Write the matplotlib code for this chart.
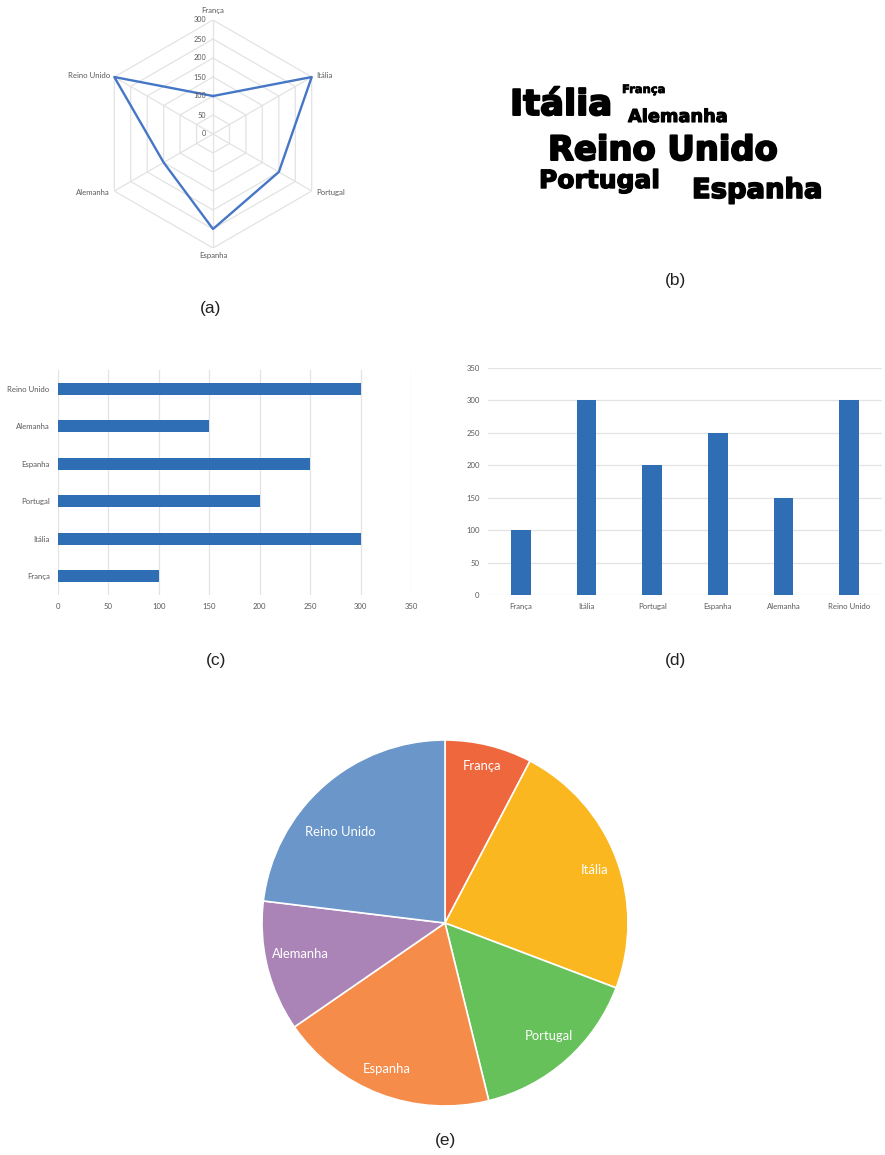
import numpy as np
import matplotlib
matplotlib.use("Agg")
import matplotlib.pyplot as plt
import matplotlib.patheffects as pe

# Data shared by all five panels
countries = ["França", "Itália", "Portugal", "Espanha", "Alemanha", "Reino Unido"]
values = [100, 300, 200, 250, 150, 300]

# Horizontal bar chart lists categories bottom-to-top in this order
hbar_countries = ["França", "Itália", "Portugal", "Espanha", "Alemanha", "Reino Unido"]
hbar_values = [100, 300, 200, 250, 150, 300]

radar_ticks = [0, 50, 100, 150, 200, 250, 300]
axis_ticks = [0, 50, 100, 150, 200, 250, 300, 350]

# Word cloud words
cloud_words = ["Itália", "França", "Alemanha", "Reino Unido", "Portugal", "Espanha"]

pie_colors = ["#EF673D", "#FBB71F", "#66C15A", "#F68C4A", "#AB84B7", "#6B96CA"]

W, H = 885, 1155
fig = plt.figure(figsize=(W / 100, H / 100), dpi=100)
fig.patch.set_facecolor("white")

BLUE = "#2F6DB5"
LINE_BLUE = "#4676C6"
GRID = "#E3E3E3"
TXT = "#595959"
FONT = "Lato"


def box(x0, y0, x1, y1):
    """Pixel box (top-left origin) -> figure fraction rect."""
    return [x0 / W, 1 - y1 / H, (x1 - x0) / W, (y1 - y0) / H]


def panel_label(x, y, s):
    fig.text(x / W, 1 - y / H, s, ha="center", va="center",
             fontsize=12.5, family="Liberation Sans", color="#222222")


# (a) radar chart
cx, cy, R = 213, 134, 114
axr = fig.add_axes(box(cx - R, cy - R, cx + R, cy + R), projection="polar")
axr.set_theta_offset(np.pi / 2)
axr.set_theta_direction(-1)
axr.set_ylim(0, 300)
axr.grid(False)
axr.spines["polar"].set_visible(False)
axr.set_xticks([])
axr.set_yticks([])
axr.patch.set_alpha(0)
n = len(countries)
theta = np.arange(n) * 2 * np.pi / n
theta_c = np.append(theta, theta[0])
for r in radar_ticks[1:]:
    axr.plot(theta_c, [r] * (n + 1), color=GRID, lw=0.9, zorder=1)
for t in theta:
    axr.plot([t, t], [0, 300], color=GRID, lw=0.9, zorder=1)
vals_c = values + values[:1]
axr.plot(theta_c, vals_c, color=LINE_BLUE, lw=1.7, zorder=3, clip_on=False)
for r in radar_ticks:
    axr.annotate(str(r), xy=(0, r), xytext=(-5, 0), textcoords="offset points",
                 ha="right", va="center", fontsize=5.2, color=TXT, family=FONT,
                 annotation_clip=False)
label_align = [("center", "bottom", 0, 4), ("left", "center", 3, 1),
               ("left", "center", 3, -1), ("center", "top", 0, -3),
               ("right", "center", -3, -1), ("right", "center", -3, 1)]
for t, name, (ha, va, dx, dy) in zip(theta, countries, label_align):
    axr.annotate(name, xy=(t, 300), xytext=(dx, dy), textcoords="offset points",
                 ha=ha, va=va, fontsize=5.6, color=TXT, family=FONT,
                 annotation_clip=False)
panel_label(211, 309, "(a)")

# (b) word cloud
cloud_pos = [(510, 115), (622, 93), (628, 122), (548, 160), (539, 188), (692, 198)]
cloud_size = [25.5, 8.3, 12.8, 24.3, 18, 19.7]
cloud_stroke = [1.4, 0.5, 0.8, 1.4, 1.0, 1.2]
for word, (x, y), s, sw in zip(cloud_words, cloud_pos, cloud_size, cloud_stroke):
    fig.text(x / W, 1 - y / H, word, ha="left", va="baseline", fontsize=s,
             fontweight="bold", family="DejaVu Sans", color="black",
             path_effects=[pe.withStroke(linewidth=sw, foreground="black")])
panel_label(676, 280, "(b)")

# (c) horizontal bar chart
axc = fig.add_axes(box(58, 370, 411, 595))
yc = np.arange(len(hbar_countries))
axc.barh(yc, hbar_values, height=0.32, color=BLUE, zorder=3)
axc.set_xlim(0, 350)
axc.set_ylim(-0.5, len(hbar_countries) - 0.5)
axc.set_xticks(axis_ticks)
axc.set_yticks(yc)
axc.set_yticklabels(hbar_countries)
axc.grid(axis="x", color=GRID, lw=0.9, zorder=0)
for s in axc.spines.values():
    s.set_visible(False)
axc.tick_params(length=0, labelsize=5.6, labelcolor=TXT, pad=6)
for lab in axc.get_xticklabels() + axc.get_yticklabels():
    lab.set_family(FONT)
panel_label(216, 660, "(c)")

# (d) vertical bar chart
axd = fig.add_axes(box(488, 368, 882, 595))
xd = np.arange(len(countries))
axd.bar(xd, values, width=0.3, color=BLUE, zorder=3)
axd.set_ylim(0, 350)
axd.set_xlim(-0.5, len(countries) - 0.5)
axd.set_yticks(axis_ticks)
axd.set_xticks(xd)
axd.set_xticklabels(countries)
axd.grid(axis="y", color=GRID, lw=0.9, zorder=0)
for s in axd.spines.values():
    s.set_visible(False)
axd.tick_params(length=0, labelsize=5.6, labelcolor=TXT, pad=6)
for lab in axd.get_xticklabels() + axd.get_yticklabels():
    lab.set_family(FONT)
panel_label(676, 660, "(d)")

# (e) pie chart
pcx, pcy, pr = 445, 923, 183
axe = fig.add_axes(box(pcx - pr, pcy - pr, pcx + pr, pcy + pr))
wedges, _ = axe.pie(values, colors=pie_colors, startangle=90, counterclock=False,
                    wedgeprops=dict(edgecolor="white", linewidth=1.2))
axe.set_xlim(-1, 1)
axe.set_ylim(-1, 1)
axe.set_aspect("equal")
axe.axis("off")
# label anchor points inside each slice (pie radius = 1)
label_xy = [(0.20, 0.86), (0.82, 0.29), (0.57, -0.62),
            (-0.32, -0.80), (-0.79, -0.17), (-0.57, 0.50)]
for name, (lx, ly) in zip(countries, label_xy):
    axe.text(lx, ly, name, ha="center", va="center",
             fontsize=9.4, color="white", family=FONT)
panel_label(445, 1140, "(e)")

fig.savefig("out.png", dpi=100, facecolor="white")
